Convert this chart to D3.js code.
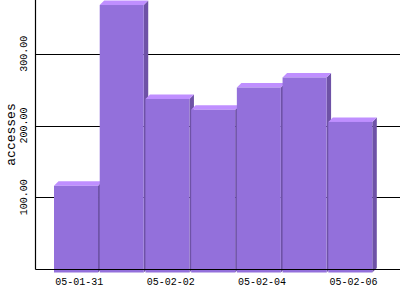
<!DOCTYPE html>
<html>
<head>
<meta charset="utf-8">
<script src="https://d3js.org/d3.v7.min.js"></script>
<style>
body { margin: 0; background: #fff; }
text { font-family: 'Liberation Mono', 'DejaVu Sans Mono', monospace; fill: #000; }
</style>
</head>
<body>
<script>
// data
var days = ["05-01-31", "05-02-01", "05-02-02", "05-02-03", "05-02-04", "05-02-05", "05-02-06"];
var accesses = [116, 368, 237, 222, 253, 267, 205];
var yTicks = [100, 200, 300];
var xLabelDays = ["05-01-31", "05-02-02", "05-02-04", "05-02-06"];

var W = 400, H = 300;
var depth = 4.5; // 3d offset
var base = 269;

var svg = d3.select("body").append("svg").attr("width", W).attr("height", H);

var x = d3.scaleBand().domain(days).range([54, 374]).paddingInner(0);
var y = d3.scaleLinear().domain([0, 375]).range([base, 0]);

// grid lines
svg.selectAll("line.grid").data(yTicks).enter().append("line")
  .attr("x1", 35.5).attr("x2", W)
  .attr("y1", function(d){ return Math.round(y(d)) + 0.5; })
  .attr("y2", function(d){ return Math.round(y(d)) + 0.5; })
  .attr("stroke", "#000").attr("stroke-width", 1.2);

// bars
var bw = x.bandwidth() - 1.7;
var bars = svg.selectAll("g.bar").data(days).enter().append("g").attr("class", "bar");
bars.each(function(d, i){
  var g = d3.select(this);
  var x0 = x(d), x1 = x0 + bw, yt = y(accesses[i]), yb = base + 3.5;
  // side face
  g.append("path")
    .attr("d", "M" + x1 + "," + yt + "L" + (x1 + depth) + "," + (yt - depth) +
               "L" + (x1 + depth) + "," + (yb - depth) + "L" + x1 + "," + yb + "Z")
    .attr("fill", "#6e52a6");
  // top face
  g.append("path")
    .attr("d", "M" + x0 + "," + yt + "L" + (x0 + depth) + "," + (yt - depth) +
               "L" + (x1 + depth) + "," + (yt - depth) + "L" + x1 + "," + yt + "Z")
    .attr("fill", "#bf8fff");
  // front face
  g.append("rect")
    .attr("x", x0).attr("y", yt).attr("width", bw).attr("height", yb - yt)
    .attr("fill", "#9370db");
});

// axes lines
svg.append("line").attr("x1", 35.5).attr("x2", 35.5).attr("y1", 0).attr("y2", base + 0.5)
  .attr("stroke", "#000").attr("stroke-width", 1.2);
svg.append("line").attr("x1", 35.5).attr("x2", W).attr("y1", base + 0.5).attr("y2", base + 0.5)
  .attr("stroke", "#000").attr("stroke-width", 1.2);

// y tick labels
svg.selectAll("text.ytick").data(yTicks).enter().append("text")
  .attr("transform", function(d){ return "translate(27," + y(d) + ") rotate(-90)"; })
  .attr("text-anchor", "middle")
  .attr("font-size", "10px")
  .text(function(d){ return d3.format(".2f")(d); });

// x labels
svg.selectAll("text.xtick").data(xLabelDays).enter().append("text")
  .attr("x", function(d){ return x(d) + bw / 2 + depth / 2 + 1; })
  .attr("y", 284.5)
  .attr("text-anchor", "middle")
  .attr("font-size", "10px")
  .text(function(d){ return d; });

// y axis title
svg.append("text")
  .attr("transform", "translate(15," + (base / 2) + ") rotate(-90)")
  .attr("text-anchor", "middle")
  .attr("font-size", "13px")
  .text("accesses");
</script>
</body>
</html>
